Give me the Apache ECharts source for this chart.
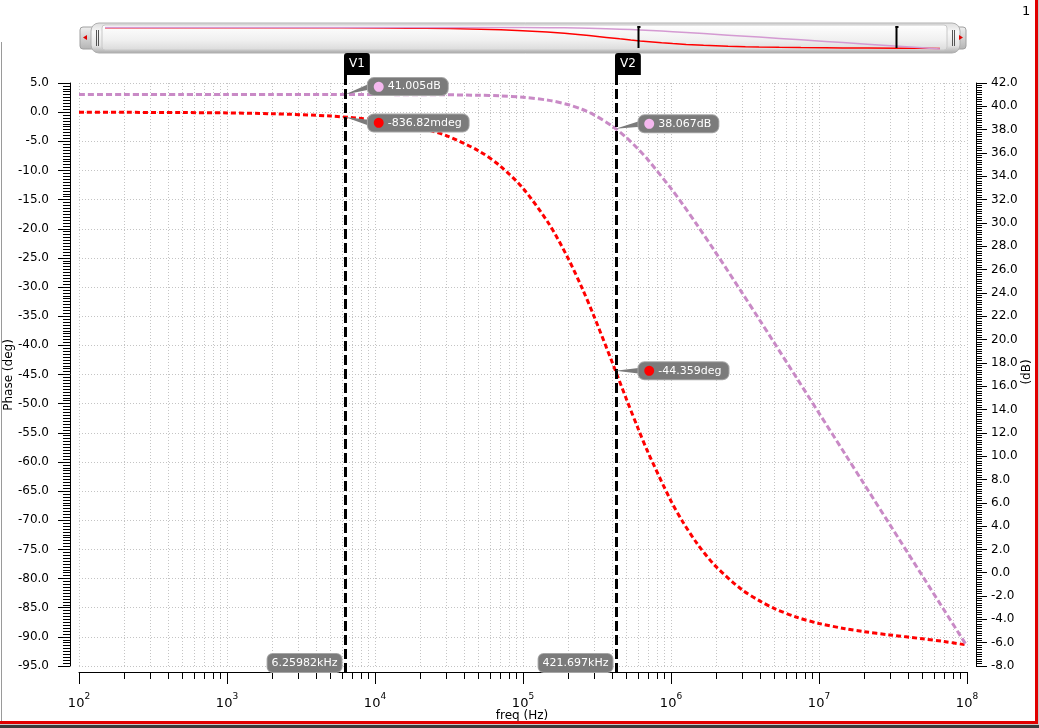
<!DOCTYPE html>
<html><head><meta charset="utf-8">
<script src="https://cdn.jsdelivr.net/npm/echarts@6/dist/echarts.min.js"></script>
<style>html,body{margin:0;padding:0;background:#fff;}#c{width:1039px;height:728px;}</style>
</head><body><div id="c"></div>
<script>
// ---- data ----
const freqHz = [1e2,2e2,5e2,1e3,2e3,5e3,1e4,1.5e4,2e4,3e4,5e4,7e4,1e5,1.5e5,2e5,2.5e5,3e5,4e5,5e5,6e5,7e5,1e6,1.2e6,1.5e6,2e6,3e6,4e6,5e6,7e6,1e7,1.5e7,2e7,3e7,5e7,7e7,1e8];
const phaseDeg = [-0.01,-0.03,-0.07,-0.13,-0.27,-0.66,-1.33,-1.99,-2.66,-3.98,-6.62,-9.22,-13.06,-19.19,-24.89,-30.11,-34.84,-42.86,-49.24,-54.30,-58.38,-66.70,-70.25,-73.99,-77.87,-81.87,-83.87,-85.15,-86.60,-87.70,-88.60,-89.10,-89.67,-90.33,-90.80,-91.40];
const magDb = [41.01,41.01,41.01,41.01,41.01,41.01,41.01,41.00,41.00,40.99,40.95,40.90,40.78,40.51,40.16,39.75,39.29,38.31,37.31,36.33,35.40,32.96,31.59,29.83,27.48,24.07,21.61,19.69,16.78,13.69,10.18,7.68,4.16,-0.28,-3.20,-6.30];
const markerNames = ['V1','V2'];
const markerFreq = [6259.82, 421697];
const markerFreqText = ['6.25982kHz','421.697kHz'];
const markerDb = [41.005, 38.067];
const markerDbText = ['41.005dB','38.067dB'];
const markerPhase = [-0.83682, -44.359];
const markerPhaseText = ['-836.82mdeg','-44.359deg'];
const thumbMarkerFreq = [6.8e5, 4.8e7];
const phaseAxis = {min:-95, max:5, interval:5};
const dbAxis = {min:-8, max:42, interval:2};
const freqAxis = {min:1e2, max:1e8};
const axisTitles = {x:'freq (Hz)', left:'Phase (deg)', right:'(dB)'};

// ---- layout / style ----
const FONT = 'DejaVu Sans';
const dbBubbleDy = [-8,-5];
const phaseBubbleDy = [6,0];
const RED = '#ff0000', PINK = '#c98ac6';

const gridFreqs = [];
for (let e = 2; e <= 8; e++) {
  gridFreqs.push([Math.pow(10,e), 1]);
  if (e < 8) for (let m = 2; m <= 9; m++) gridFreqs.push([m*Math.pow(10,e), 0]);
}

function renderXGrid(params, api) {
  const cs = params.coordSys;
  const x = Math.round(api.coord([api.value(0), 0])[0]) + 0.5;
  const yb = cs.y + cs.height;
  const major = api.value(1) === 1;
  return {type:'group', children:[
    {type:'line', shape:{x1:x,y1:cs.y,x2:x,y2:yb}, style:{stroke:'#c4c4c4', lineWidth:1, lineDash:[1,2]}},
    {type:'line', shape:{x1:x,y1:yb+6,x2:x,y2:yb+6+(major?12:7)}, style:{stroke:'#000', lineWidth:1}}
  ]};
}

function bubble(px, py, dy, txt, dotColor) {
  const bx = px + 23, by = py + dy;
  return [
    {type:'polygon', shape:{points:[[px,py],[bx+2,by-3],[bx+2,by+3]]}, style:{fill:'#7b7b7b'}},
    {type:'text', x:bx, y:by, style:{
      text:'{d|●} ' + txt, rich:{d:{fill:dotColor, fontSize:13, lineHeight:13, fontFamily:FONT}},
      fill:'#fff', font:'11px ' + FONT, lineHeight:13, align:'left', verticalAlign:'middle',
      backgroundColor:'#7b7b7b', borderColor:'#a6a6a6', borderWidth:1, borderRadius:6, padding:[2,7,2,5]}}
  ];
}

function renderMarkers(params, api) {
  const cs = params.coordSys;
  const i = params.dataIndex;
  const p = api.coord([api.value(0), api.value(1)]);
  const x = Math.round(p[0]) + 0.5;
  const yb = cs.y + cs.height;
  const children = [
    {type:'line', shape:{x1:x,y1:cs.y-8,x2:x,y2:yb+6}, style:{stroke:'#000', lineWidth:3, lineDash:[10,4]}},
    {type:'text', x:x-1.5, y:cs.y-8, style:{text:markerNames[i], fill:'#fff', font:'12px ' + FONT,
      align:'left', verticalAlign:'bottom', backgroundColor:'#000', padding:[5,5,5,5], borderRadius:[3,3,0,0]}},
    {type:'text', x:x-4, y:yb+6, style:{text:markerFreqText[i], fill:'#fff', font:'11px ' + FONT,
      align:'right', verticalAlign:'bottom', backgroundColor:'#7b7b7b', borderColor:'#a6a6a6', borderWidth:1,
      padding:[4,4,3,4], borderRadius:5}}
  ].concat(bubble(p[0], p[1], phaseBubbleDy[i], markerPhaseText[i], '#ff0000'));
  return {type:'group', children};
}

function renderDbBubbles(params, api) {
  const i = params.dataIndex;
  const p = api.coord([api.value(0), api.value(1)]);
  return {type:'group', children: bubble(p[0], p[1], dbBubbleDy[i], markerDbText[i], '#f5b8ef')};
}

function renderThumbMarkers(params, api) {
  const cs = params.coordSys;
  const x = Math.round(api.coord([api.value(0), 0])[0]) + 0.5;
  return {type:'group', children:[
    {type:'line', shape:{x1:x,y1:cs.y-1,x2:x,y2:cs.y+cs.height-1}, style:{stroke:'#000', lineWidth:2}},
    {type:'line', shape:{x1:x-1,y1:cs.y,x2:x+2,y2:cs.y}, style:{stroke:'#000', lineWidth:2}}
  ]};
}

const phaseData = freqHz.map((f,i) => [f, phaseDeg[i]]);
const magData = freqHz.map((f,i) => [f, magDb[i]]);

const chart = echarts.init(document.getElementById('c'), null, {renderer:'canvas'});
const axisFont = {fontFamily:FONT, fontSize:12, color:'#000'};

chart.setOption({
  animation:false,
  backgroundColor:'#fff',
  grid:[
    {left:79, right:72, top:83, bottom:62, containLabel:false, outerBoundsMode:'none'},
    {left:105, right:99, top:27, height:22, containLabel:false, outerBoundsMode:'none'}
  ],
  xAxis:[
    {type:'log', logBase:10, min:freqAxis.min, max:freqAxis.max, splitNumber:6, gridIndex:0, offset:6, position:'bottom',
     axisLine:{show:true, onZero:false, lineStyle:{color:'#000', width:1}},
     axisTick:{show:false}, minorTick:{show:false}, splitLine:{show:false},
     axisLabel:{margin:20, formatter:v => '{b|10}{s|' + Math.round(Math.log10(v)) + '}',
       rich:{b:{fontFamily:FONT, fontSize:13, color:'#000', lineHeight:18, verticalAlign:'bottom'},
             s:{fontFamily:FONT, fontSize:9, color:'#000', lineHeight:18, verticalAlign:'top'}}}},
    {type:'log', logBase:10, min:freqAxis.min, max:freqAxis.max, gridIndex:1, show:false, axisLine:{onZero:false}}
  ],
  yAxis:[
    {type:'value', gridIndex:0, position:'left', offset:9, min:phaseAxis.min, max:phaseAxis.max, interval:phaseAxis.interval,
     axisLine:{show:true, onZero:false, lineStyle:{color:'#000'}},
     axisTick:{show:true, length:12, lineStyle:{color:'#000'}},
     minorTick:{show:true, splitNumber:10, length:7, lineStyle:{color:'#000'}},
     splitLine:{show:true, lineStyle:{color:'#c4c4c4', type:[1,2], width:1}},
     axisLabel:Object.assign({margin:21, formatter:v => v.toFixed(1)}, axisFont)},
    {type:'value', gridIndex:0, position:'right', offset:9, min:dbAxis.min, max:dbAxis.max, interval:dbAxis.interval,
     axisLine:{show:true, onZero:false, lineStyle:{color:'#000'}},
     axisTick:{show:true, length:11, lineStyle:{color:'#000'}},
     minorTick:{show:true, splitNumber:10, length:6, lineStyle:{color:'#000'}},
     splitLine:{show:false},
     axisLabel:Object.assign({margin:15, formatter:v => v.toFixed(1)}, axisFont)},
    {type:'value', gridIndex:1, min:-94, max:3, show:false},
    {type:'value', gridIndex:1, min:-6.5, max:42, show:false}
  ],
  graphic:[
    // axis titles
    {type:'text', z:50, x:522, y:716, style:{text:axisTitles.x, font:'12px ' + FONT, fill:'#000', align:'center', verticalAlign:'middle'}},
    {type:'text', z:50, x:9, y:375, rotation:Math.PI/2, style:{text:axisTitles.left, font:'12px ' + FONT, fill:'#000', align:'center', verticalAlign:'middle'}},
    {type:'text', z:50, x:1027, y:372, rotation:Math.PI/2, style:{text:axisTitles.right, font:'12px ' + FONT, fill:'#000', align:'center', verticalAlign:'middle'}},
    // outer frame
    {type:'rect', z:100, shape:{x:1, y:42, width:1, height:680}, style:{fill:'#9a9a9a'}},
    {type:'rect', z:100, shape:{x:0, y:721, width:1038, height:3}, style:{fill:'#e00000'}},
    {type:'rect', z:100, shape:{x:0, y:724, width:1039, height:1}, style:{fill:'#c8c8c8'}},
    {type:'rect', z:100, shape:{x:0, y:725, width:1039, height:3}, style:{fill:'#3a3a3a'}},
    {type:'rect', z:100, shape:{x:1035, y:0, width:3, height:724}, style:{fill:'#e00000'}},
    {type:'rect', z:100, shape:{x:1038, y:0, width:1, height:725}, style:{fill:'#c8c8c8'}},
    {type:'text', z:100, x:1022, y:5, style:{text:'1', font:'13px ' + FONT, fill:'#000'}},
    // overview slider chrome
    {type:'rect', z:-1, shape:{x:80, y:27, width:16, height:22, r:3},
     style:{fill:new echarts.graphic.LinearGradient(0,0,0,1,[{offset:0,color:'#f0f0f0'},{offset:1,color:'#b4b4b4'}]), stroke:'#a0a0a0'}},
    {type:'rect', z:-1, shape:{x:950, y:27, width:16, height:22, r:3},
     style:{fill:new echarts.graphic.LinearGradient(0,0,0,1,[{offset:0,color:'#f0f0f0'},{offset:1,color:'#b4b4b4'}]), stroke:'#a0a0a0'}},
    {type:'rect', z:-1, shape:{x:91, y:23, width:869, height:30, r:8},
     style:{fill:new echarts.graphic.LinearGradient(0,0,0,1,[{offset:0,color:'#dcdcdc'},{offset:0.3,color:'#f8f8f8'},{offset:0.75,color:'#e4e4e4'},{offset:1,color:'#a8a8a8'}]), stroke:'#b0b0b0'}},
    {type:'rect', z:-1, shape:{x:102, y:25, width:845, height:25, r:3},
     style:{fill:new echarts.graphic.LinearGradient(0,0,0,1,[{offset:0,color:'#ffffff'},{offset:0.6,color:'#f0f0f0'},{offset:1,color:'#dadada'}]), stroke:'#c8c8c8'}},
    {type:'line', z:0, shape:{x1:96.5,y1:30,x2:96.5,y2:46}, style:{stroke:'#555', lineWidth:1}},
    {type:'line', z:0, shape:{x1:98.5,y1:30,x2:98.5,y2:46}, style:{stroke:'#555', lineWidth:1}},
    {type:'line', z:0, shape:{x1:952.5,y1:30,x2:952.5,y2:46}, style:{stroke:'#555', lineWidth:1}},
    {type:'line', z:0, shape:{x1:954.5,y1:30,x2:954.5,y2:46}, style:{stroke:'#555', lineWidth:1}},
    {type:'polygon', z:0, shape:{points:[[83,37.5],[87,35],[87,40]]}, style:{fill:'#e00000'}},
    {type:'polygon', z:0, shape:{points:[[963,37.5],[959,35],[959,40]]}, style:{fill:'#e00000'}}
  ],
  series:[
    {type:'custom', name:'xgrid', xAxisIndex:0, yAxisIndex:0, data:gridFreqs, renderItem:renderXGrid, silent:true, z:1, clip:false},
    {type:'line', name:'Phase', xAxisIndex:0, yAxisIndex:0, data:phaseData, showSymbol:false, smooth:0.3,
     lineStyle:{color:RED, width:3, type:[5,3]}, itemStyle:{color:RED}, z:3},
    {type:'line', name:'dB', xAxisIndex:0, yAxisIndex:1, data:magData, showSymbol:false, smooth:0.3,
     lineStyle:{color:PINK, width:3, type:[6,3]}, itemStyle:{color:PINK}, z:4},
    {type:'custom', name:'markers', xAxisIndex:0, yAxisIndex:0, data:markerFreq.map((f,i)=>[f, markerPhase[i]]),
     renderItem:renderMarkers, silent:true, z:6, clip:false},
    {type:'custom', name:'dbBubbles', xAxisIndex:0, yAxisIndex:1, data:markerFreq.map((f,i)=>[f, markerDb[i]]),
     renderItem:renderDbBubbles, silent:true, z:7, clip:false},
    {type:'line', xAxisIndex:1, yAxisIndex:2, data:phaseData, showSymbol:false, lineStyle:{color:RED, width:1.5}, z:3},
    {type:'line', xAxisIndex:1, yAxisIndex:3, data:magData, showSymbol:false, lineStyle:{color:'#d49ad2', width:1.5}, z:3},
    {type:'custom', xAxisIndex:1, yAxisIndex:2, data:thumbMarkerFreq.map(f=>[f,0]), renderItem:renderThumbMarkers, silent:true, z:5, clip:false}
  ]
});
</script>
</body></html>
